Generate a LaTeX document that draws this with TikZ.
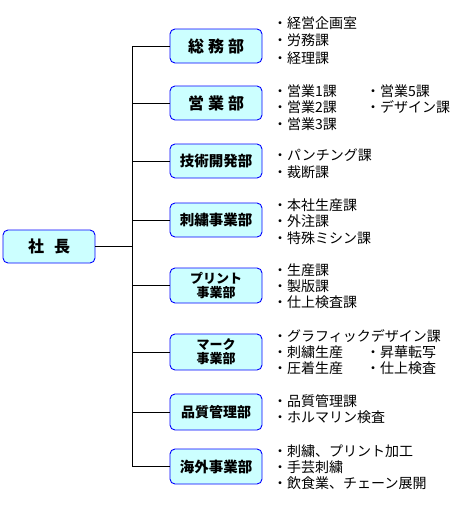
\documentclass[tikz,border=0pt]{standalone}
\usepackage{fontspec}
\setmainfont{Noto Sans CJK JP}
\begin{document}
\begin{tikzpicture}[x=1pt,y=1pt,
  dept/.style={draw=blue, fill=cyan!20, line width=0.9pt, rounded corners=5pt,
    minimum width=92pt, minimum height=34pt, inner sep=0pt, align=center,
    font=\fontsize{14.5}{15}\selectfont\bfseries},
  small/.style={dept, font=\fontsize{13}{15}\selectfont\bfseries},
  item/.style={anchor=west, inner sep=0pt, font=\fontsize{14}{15}\selectfont},
  link/.style={draw=black, line width=0.9pt}]
\useasboundingbox (0,0) rectangle (475,-507);
\definecolor{boxfill}{HTML}{CCFFFF}
% president
\node[dept, fill=boxfill, minimum height=33pt, font=\fontsize{16}{16}\selectfont\bfseries] (pres) at (49,-246.5) {社\hspace{10pt}長};
% departments
\node[dept, fill=boxfill, font=\fontsize{16}{16}\selectfont\bfseries] (d1) at (216,-46) {総\hspace{4pt}務\hspace{4pt}部};
\node[dept, fill=boxfill, font=\fontsize{16}{16}\selectfont\bfseries] (d2) at (216,-103) {営\hspace{4pt}業\hspace{4pt}部};
\node[dept, fill=boxfill] (d3) at (216,-161) {技術開発部};
\node[dept, fill=boxfill] (d4) at (216,-220) {刺繍事業部};
\node[small, fill=boxfill, minimum height=35pt] (d5) at (216,-285.5) {プリント\\[-1pt]事業部};
\node[small, fill=boxfill, minimum height=36pt] (d6) at (216,-352) {マーク\\[-1pt]事業部};
\node[dept, fill=boxfill, minimum height=36pt, font=\fontsize{14}{15}\selectfont\bfseries] (d7) at (216,-412) {品質管理部};
\node[dept, fill=boxfill, minimum height=35pt] (d8) at (216,-466.5) {海外事業部};
% bus
\coordinate (bus) at (132,0);
\draw[link] (pres.east) -- (pres.east -| bus);
\draw[link] (d1.west -| bus) -- (d8.west -| bus);
\foreach \d in {d1,d2,d3,d4,d5,d6,d7,d8}
  \draw[link] (\d.west -| bus) -- (\d.west);
% lists
\node[item] (a1) at (273,-23) {・経営企画室};
\node[item] (a2) at (273,-40.5) {・労務課};
\node[item] (a3) at (273,-58) {・経理課};
\node[item] (b1) at (273,-91) {・営業1課};
\node[item] (b2) at (273,-107.5) {・営業2課};
\node[item] (b3) at (273,-124) {・営業3課};
\node[item] (b4) at (366,-91) {・営業5課};
\node[item] (b5) at (366,-107.5) {・デザイン課};
\node[item] (c1) at (273,-155) {・パンチング課};
\node[item] (c2) at (273,-172) {・裁断課};
\node[item] (e1) at (273,-205) {・本社生産課};
\node[item] (e2) at (273,-221.5) {・外注課};
\node[item] (e3) at (273,-238) {・特殊ミシン課};
\node[item] (f1) at (273,-270.5) {・生産課};
\node[item] (f2) at (273,-286.5) {・製版課};
\node[item] (f3) at (273,-302.5) {・仕上検査課};
\node[item] (g1) at (273,-336) {・グラフィックデザイン課};
\node[item] (g2) at (273,-352) {・刺繍生産};
\node[item] (g3) at (273,-368) {・圧着生産};
\node[item] (g4) at (366,-352) {・昇華転写};
\node[item] (g5) at (366,-368) {・仕上検査};
\node[item] (h1) at (273,-401) {・品質管理課};
\node[item] (h2) at (273,-417) {・ホルマリン検査};
\node[item] (k1) at (273,-451) {・刺繍、プリント加工};
\node[item] (k2) at (273,-467) {・手芸刺繍};
\node[item] (k3) at (273,-483) {・飲食業、チェーン展開};
\end{tikzpicture}
\end{document}
